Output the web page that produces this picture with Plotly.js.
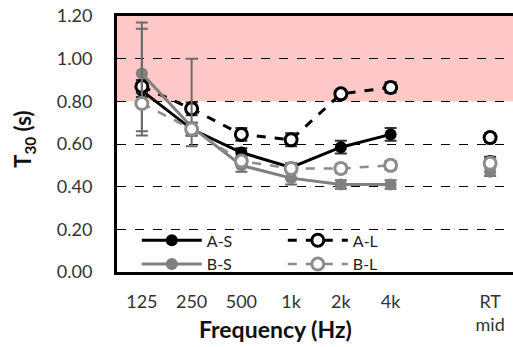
<!DOCTYPE html>
<html><head><meta charset="utf-8">
<script src="https://cdn.plot.ly/plotly-3.0.1.min.js"></script>
<style>html,body{margin:0;padding:0;background:#fff}#c{width:513px;height:347px}</style>
</head><body><div id="c"></div>
<script>
const categories = ['125','250','500','1k','2k','4k','','RT<br>mid'];
const aS = [0.85,0.67,0.56,0.49,0.585,0.645,null,0.52];
const aL = [0.87,0.765,0.645,0.62,0.835,0.865,null,0.63];
const bS = [0.93,0.68,0.50,0.44,0.41,0.41,null,0.47];
const bL = [0.79,0.67,0.52,0.485,0.485,0.50,null,0.51];
const aSErr = [0.03,0.03,0.02,0.02,0.03,0.03,null,0.02];
const aLErr = [0.03,0.03,0.03,0.03,0.015,0.025,null,0.02];
const bSErrPlus = [0.24,0.32,0.03,0.03,0.02,0.02,null,0.02];
const bSErrMinus = [0.27,0.09,0.03,0.03,0.02,0.02,null,0.02];
const bLErrPlus = [0.35,0.03,0.02,0.02,0.02,0.02,null,0.02];
const bLErrMinus = [0.15,0.03,0.02,0.02,0.02,0.02,null,0.02];
const shadeRange = [0.8, 1.2];

const xs = categories.map((c,i)=>i);
const FONT = 'Lato, "Open Sans", sans-serif';
function tr(name, y, color, dash, open, ep, em, ecolor, lw){
  return {x: xs, y: y, name: name, type:'scatter', mode:'lines+markers', connectgaps:false,
    line:{color:color, width:lw, dash:dash},
    marker:{size:12, color: open ? '#ffffff' : color, line:{color:color, width: open?3:0}, symbol:'circle'},
    error_y:{type:'data', symmetric:false, array:ep, arrayminus:em, color:ecolor, thickness:2, width:6}};
}
const data = [
  tr('A-S', aS, '#000000', 'solid', false, aSErr, aSErr, '#333333', 3),
  tr('A-L', aL, '#000000', 'dash', true, aLErr, aLErr, '#333333', 3),
  tr('B-S', bS, '#808080', 'solid', false, bSErrPlus, bSErrMinus, '#6b6b6b', 3),
  tr('B-L', bL, '#8c8c8c', 'dash', true, bLErrPlus, bLErrMinus, '#6b6b6b', 2.5)
];
const layout = {
  width:513, height:347, margin:{l:117, r:0, t:16, b:75},
  paper_bgcolor:'#ffffff', plot_bgcolor:'#ffffff',
  font:{family:FONT, color:'#333333', size:17},
  showlegend:true,
  legend:{orientation:'h', x:0.05, xanchor:'left', y:0.19, yanchor:'top', entrywidth:71, itemwidth:60,
    bgcolor:'rgba(0,0,0,0)', font:{family:FONT, size:16, color:'#222'}, traceorder:'normal', tracegroupgap:0},
  xaxis:{range:[-0.5,7.46], tickvals:xs, ticktext:categories, showgrid:false, zeroline:false,
    showline:true, mirror:true, linecolor:'#000', linewidth:3, ticks:'', ticklabelstandoff:11,
    tickfont:{family:FONT, size:18, color:'#333'}},
  yaxis:{range:[0,1.2], dtick:0.2, tickformat:'.2f', showgrid:true, gridcolor:'#000', gridwidth:1, griddash:'dash',
    zeroline:false, showline:true, linecolor:'#000', linewidth:3, ticks:'', ticklabelstandoff:18,
    tickfont:{family:FONT, size:18, color:'#333'}},
  shapes:[{type:'rect', xref:'paper', x0:0, x1:1, yref:'y', y0:shadeRange[0], y1:shadeRange[1],
    fillcolor:'rgb(255,200,200)', line:{width:0}, layer:'below'}],
  annotations:[
    {text:'<b>Frequency (Hz)</b>', xref:'paper', yref:'paper', x:0.40, y:-0.222, xanchor:'center', yanchor:'middle',
      showarrow:false, font:{family:FONT, size:23, color:'#111'}},
    {text:'<b>T<sub>30</sub> (s)</b>', xref:'paper', yref:'paper', x:-0.235, y:0.52, xanchor:'center', yanchor:'middle',
      textangle:-90, showarrow:false, font:{family:FONT, size:22, color:'#111'}}
  ]
};
Plotly.newPlot('c', data, layout, {staticPlot:true});
</script></body></html>
